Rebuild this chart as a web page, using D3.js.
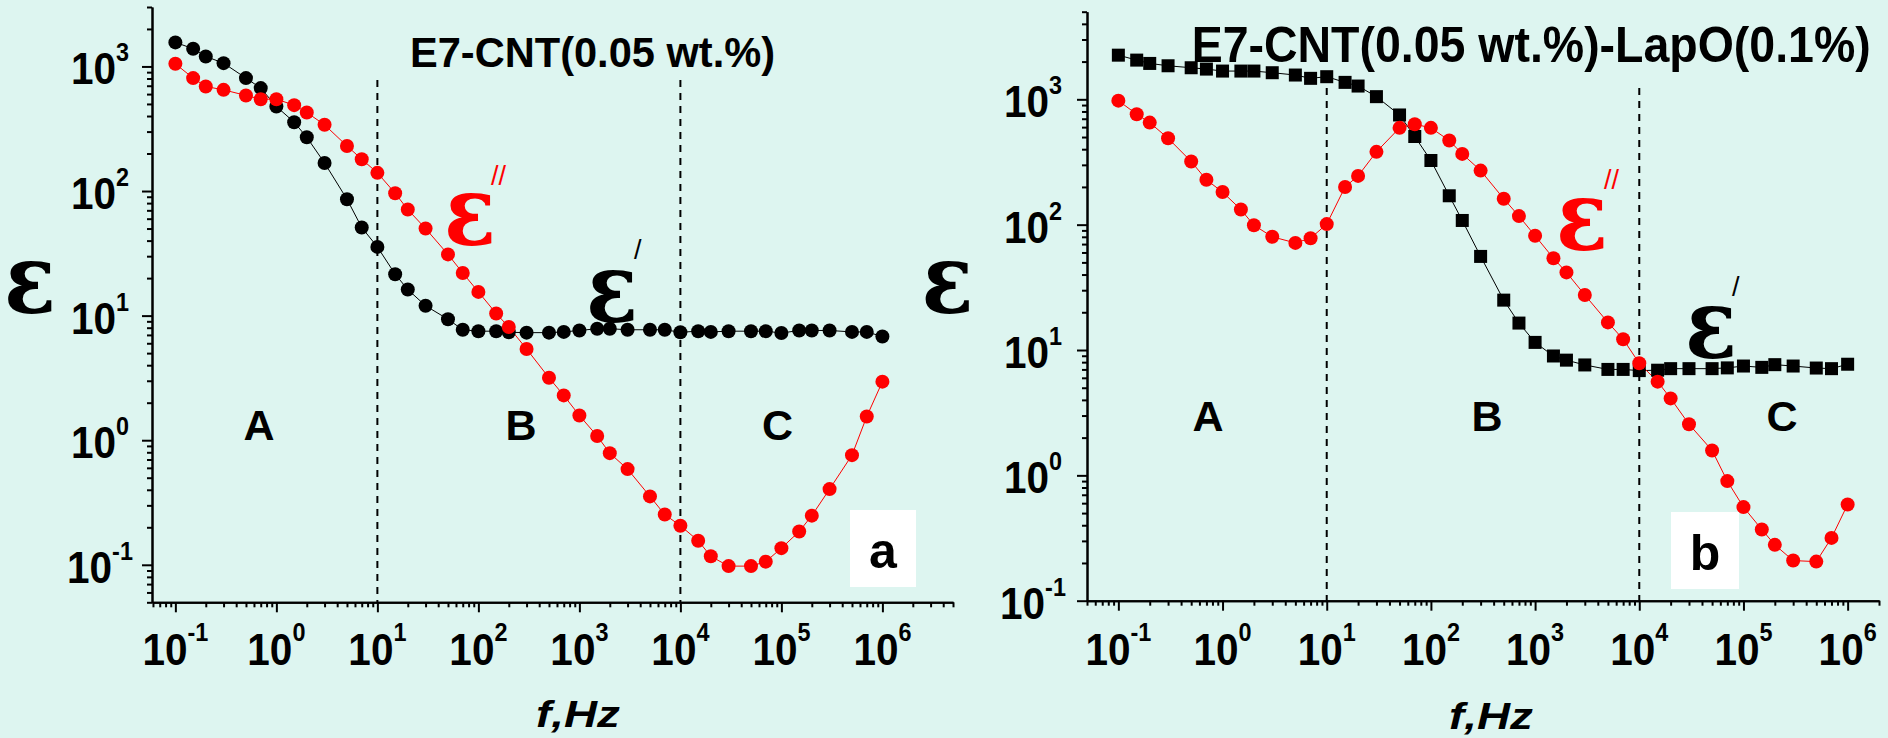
<!DOCTYPE html>
<html>
<head>
<meta charset="utf-8">
<script src="https://cdn.jsdelivr.net/npm/d3@7/dist/d3.min.js"></script>
<style>
  body { margin: 0; background: #ddf5f0; }
  svg { display: block; }
  text { font-family: "Liberation Sans", Arial, sans-serif; font-weight: bold; }
  .eps { font-family: "DejaVu Serif", serif; font-weight: bold; }
  .prime { font-weight: normal; }
</style>
</head>
<body>
<div id="chart"></div>
<script>
////////// data
var freq = [0.1, 0.15, 0.2, 0.3, 0.5, 0.7, 1, 1.5, 2, 3, 5, 7,
  10, 15, 20, 30, 50, 70, 100, 150, 200, 300, 500, 700,
  1e3, 1.5e3, 2e3, 3e3, 5e3, 7e3, 1e4, 1.5e4, 2e4, 3e4, 5e4, 7e4,
  1e5, 1.5e5, 2e5, 3e5, 5e5, 7e5, 1e6];

// panel a : E7-CNT(0.05 wt.%)
var epsRealA = [1560, 1388, 1203, 1063, 806, 670, 477, 357, 270, 168, 86, 51,
  35.6, 21.5, 16.2, 12.0, 9.35, 7.7, 7.5, 7.5, 7.35, 7.3, 7.3, 7.4,
  7.6, 7.85, 7.85, 7.7, 7.7, 7.7, 7.35, 7.5, 7.4, 7.5, 7.5, 7.5,
  7.25, 7.6, 7.6, 7.6, 7.4, 7.4, 6.8];
var epsImagA = [1050, 806, 690, 649, 585, 546, 546, 489, 427, 340, 230, 180,
  140, 96, 71, 50, 31, 22, 15.5, 10.4, 8.1, 5.4, 3.17, 2.29,
  1.58, 1.08, 0.787, 0.586, 0.354, 0.253, 0.206, 0.156, 0.117, 0.0976, 0.0976, 0.106,
  0.136, 0.185, 0.248, 0.405, 0.759, 1.55, 2.95];

// panel b : E7-CNT(0.05 wt.%)-LapO(0.1%)
var epsRealB = [2250, 2055, 1933, 1852, 1786, 1742, 1680, 1680, 1680, 1630, 1562, 1470,
  1515, 1365, 1276, 1050, 750, 505, 325, 170, 108, 55.8, 25, 16.4,
  11.5, 8.96, 8.3, 7.6, 7.0, 7.0, 6.85, 6.9, 7.1, 7.1, 7.1, 7.2,
  7.45, 7.27, 7.64, 7.45, 7.18, 7.1, 7.7];
var epsImagB = [976, 760, 652, 489, 319, 228, 182, 132, 99, 80, 71.5, 78,
  101, 200, 245, 381, 592, 633, 592, 469, 367, 270, 161, 117,
  81.6, 54, 41.6, 27.5, 16.6, 12.2, 7.83, 5.59, 4.11, 2.56, 1.58, 0.90,
  0.558, 0.37, 0.279, 0.209, 0.205, 0.317, 0.586];

// ticks and labels
var xMajor = [0.1, 1, 10, 100, 1e3, 1e4, 1e5, 1e6];
var xExp = ["-1", "0", "1", "2", "3", "4", "5", "6"];
var yMajor = [0.1, 1, 10, 100, 1e3];
var yExp = ["-1", "0", "1", "2", "3"];
var regionBounds = [10, 1e4];
var regionNames = ["A", "B", "C"];
var titles = ["E7-CNT(0.05 wt.%)", "E7-CNT(0.05 wt.%)-LapO(0.1%)"];
var panelTags = ["a", "b"];

var W = 1888, H = 738;

var svg = d3.select("#chart").append("svg")
  .attr("width", W).attr("height", H);
svg.append("rect").attr("width", W).attr("height", H).attr("fill", "#ddf5f0");

// layout of each panel (pixels)
var panels = [
  { left: 152, right: 953, top: 7, bottom: 602.3, xDom: [0.0587, 5e6], yDom: [0.05, 3000],
    real: epsRealA, imag: epsImagA, square: false, title: titles[0],
    titleX: 410, titleY: 66.7, titleLen: 365, titleSize: 42,
    dashTop: 80, regionY: 440, regionX: [259, 521, 777.5],
    yLabX: 30, tickLabX: 100,
    epsImag: [470, 245, 491, 185], epsReal: [612, 322, 634, 259],
    box: [850, 510, 66, 77], tag: panelTags[0], fX: 578, fY: 727 },
  { left: 1087, right: 1879, top: 11.7, bottom: 600.7, xDom: [0.05, 2e6], yDom: [0.1, 5000],
    real: epsRealB, imag: epsImagB, square: true, title: titles[1],
    titleX: 1191.7, titleY: 61.7, titleLen: 679, titleSize: 50,
    dashTop: 88, regionY: 431, regionX: [1208, 1487, 1782],
    yLabX: 947.5, tickLabX: 1033,
    epsImag: [1582, 250, 1604, 189], epsReal: [1711, 358, 1732, 296],
    box: [1671, 512, 68, 77], tag: panelTags[1], fX: 1491, fY: 729 }
];

// "10" with a raised exponent, slightly condensed like the original
function powLabel(g, cx, base, exp, dy) {
  var t = g.append("text")
    .attr("transform", "translate(" + cx + "," + base + ") scale(0.9,1)")
    .attr("text-anchor", "middle").attr("font-size", 45);
  t.append("tspan").text("10");
  t.append("tspan").attr("dy", dy).attr("font-size", 26).text(exp);
}

// big epsilon
function epsLabel(g, cx, base, color) {
  g.append("text").attr("class", "eps")
    .attr("transform", "translate(" + cx + "," + base + ") scale(0.88,1)")
    .attr("text-anchor", "middle").attr("font-size", 97)
    .attr("fill", color).text("ε");
}

function drawPanel(p) {
  var g = svg.append("g");
  var x = d3.scaleLog().domain(p.xDom).range([p.left, p.right]);
  var y = d3.scaleLog().domain(p.yDom).range([p.bottom, p.top]);

  var xMinor = x.ticks().filter(function(v) { return xMajor.indexOf(v) < 0; });
  var yMinor = y.ticks().filter(function(v) { return yMajor.indexOf(v) < 0; });

  // x axis
  var gx = g.append("g").attr("transform", "translate(0," + p.bottom + ")");
  gx.append("g").call(d3.axisBottom(x).tickValues(xMinor).tickSize(5).tickSizeOuter(0).tickFormat(""));
  gx.append("g").call(d3.axisBottom(x).tickValues(xMajor).tickSize(10).tickSizeOuter(0).tickFormat(""));
  // y axis
  var gy = g.append("g").attr("transform", "translate(" + p.left + ",0)");
  gy.append("g").call(d3.axisLeft(y).tickValues(yMinor).tickSize(5).tickSizeOuter(0).tickFormat(""));
  gy.append("g").call(d3.axisLeft(y).tickValues(yMajor).tickSize(10).tickSizeOuter(0).tickFormat(""));
  g.selectAll(".domain, .tick line").attr("stroke", "#000").attr("stroke-width", 2);

  // tick labels 10^n
  xMajor.forEach(function(v, i) { powLabel(g, x(v), 665, xExp[i], -24); });
  yMajor.forEach(function(v, i) { powLabel(g, p.tickLabX, y(v) + 18, yExp[i], -23); });

  // region borders
  regionBounds.forEach(function(v) {
    g.append("line").attr("x1", x(v)).attr("x2", x(v))
      .attr("y1", p.dashTop).attr("y2", p.bottom)
      .attr("stroke", "#000").attr("stroke-width", 2)
      .attr("stroke-dasharray", "7,6");
  });
  regionNames.forEach(function(n, i) {
    g.append("text").attr("x", p.regionX[i]).attr("y", p.regionY)
      .attr("text-anchor", "middle").attr("font-size", 43).text(n);
  });

  // series
  var line = d3.line()
    .x(function(d) { return x(d[0]); })
    .y(function(d) { return y(d[1]); });
  var realPts = freq.map(function(f, i) { return [f, p.real[i]]; });
  var imagPts = freq.map(function(f, i) { return [f, p.imag[i]]; });

  g.append("path").datum(realPts).attr("d", line)
    .attr("fill", "none").attr("stroke", "#000").attr("stroke-width", 1);
  g.append("path").datum(imagPts).attr("d", line)
    .attr("fill", "none").attr("stroke", "#ff0000").attr("stroke-width", 1);

  if (p.square) {
    g.selectAll(".sq").data(realPts).enter().append("rect")
      .attr("x", function(d) { return x(d[0]) - 6.5; })
      .attr("y", function(d) { return y(d[1]) - 6.5; })
      .attr("width", 13).attr("height", 13).attr("fill", "#000");
  } else {
    g.selectAll(".dotr").data(realPts).enter().append("circle")
      .attr("cx", function(d) { return x(d[0]); })
      .attr("cy", function(d) { return y(d[1]); })
      .attr("r", 7).attr("fill", "#000");
  }
  g.selectAll(".doti").data(imagPts).enter().append("circle")
    .attr("cx", function(d) { return x(d[0]); })
    .attr("cy", function(d) { return y(d[1]); })
    .attr("r", 7).attr("fill", "#ff0000");

  // title
  g.append("text").attr("x", p.titleX).attr("y", p.titleY)
    .attr("font-size", p.titleSize)
    .attr("textLength", p.titleLen).attr("lengthAdjust", "spacingAndGlyphs")
    .text(p.title);

  // epsilon labels
  epsLabel(g, p.yLabX, 313, "#000");
  epsLabel(g, p.epsImag[0], p.epsImag[1], "#ff0000");
  g.append("text").attr("class", "prime").attr("x", p.epsImag[2]).attr("y", p.epsImag[3])
    .attr("font-size", 27).attr("fill", "#ff0000").text("//");
  epsLabel(g, p.epsReal[0], p.epsReal[1], "#000");
  g.append("text").attr("class", "prime").attr("x", p.epsReal[2]).attr("y", p.epsReal[3])
    .attr("font-size", 27).text("/");

  // panel tag
  g.append("rect").attr("x", p.box[0]).attr("y", p.box[1])
    .attr("width", p.box[2]).attr("height", p.box[3]).attr("fill", "#fff");
  g.append("text").attr("x", p.box[0] + p.box[2] / 2).attr("y", p.box[1] + 58)
    .attr("text-anchor", "middle").attr("font-size", 50).text(p.tag);

  // x axis title
  g.append("text").attr("x", p.fX).attr("y", p.fY)
    .attr("text-anchor", "middle").attr("font-size", 36).attr("font-style", "italic")
    .attr("textLength", 84).attr("lengthAdjust", "spacingAndGlyphs")
    .text("f,Hz");
}

panels.forEach(drawPanel);
</script>
</body>
</html>
